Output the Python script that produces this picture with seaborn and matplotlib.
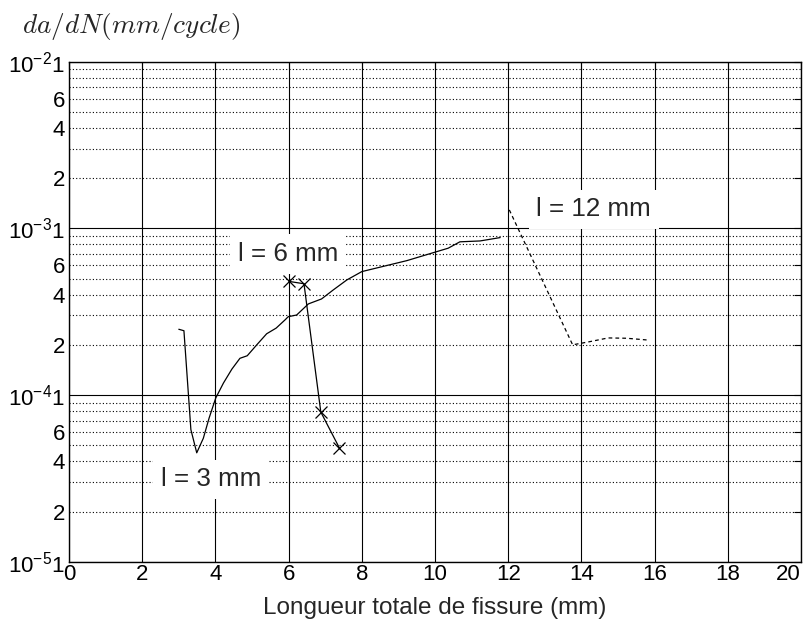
import numpy as np
import pandas as pd
import matplotlib
matplotlib.use('Agg')
import matplotlib.pyplot as plt
import seaborn as sns

# courbe l = 3 mm (trait plein)
x_3mm = [3.0, 3.14, 3.33, 3.49, 3.67, 3.83, 4.01, 4.22, 4.45, 4.67, 4.87, 5.13, 5.40, 5.66, 5.90,
         5.99, 6.22, 6.54, 6.90, 7.22, 7.59, 8.00, 8.50, 9.23, 10.05, 10.36, 10.68, 11.23, 11.78]
y_3mm = [2.48e-4, 2.43e-4, 6.2e-5, 4.5e-5, 5.5e-5, 7.3e-5, 9.6e-5, 1.18e-4, 1.43e-4, 1.66e-4,
         1.72e-4, 2.0e-4, 2.33e-4, 2.52e-4, 2.82e-4, 2.95e-4, 3.02e-4, 3.52e-4, 3.77e-4, 4.27e-4,
         4.9e-4, 5.5e-4, 5.85e-4, 6.4e-4, 7.25e-4, 7.6e-4, 8.3e-4, 8.4e-4, 8.8e-4]

# courbe l = 6 mm (croix)
x_6mm = [6.02, 6.42, 6.88, 7.39]
y_6mm = [4.8e-4, 4.65e-4, 7.9e-5, 4.8e-5]

# courbe l = 12 mm (tirets)
x_12mm = [12.03, 13.76, 14.23, 14.73, 15.24, 15.78]
y_12mm = [1.29e-3, 2.0e-4, 2.09e-4, 2.2e-4, 2.19e-4, 2.14e-4]

decades = [-5, -4, -3, -2]
labelled_minor = [2, 4, 6]
x_ticks = list(range(0, 21, 2))

sns.set_style('white')
plt.rcParams['font.family'] = ['Liberation Sans', 'DejaVu Sans']

fig = plt.figure(figsize=(8.07, 6.19), dpi=100)
ax = fig.add_axes([0.0855, 0.0926, 0.9071, 0.8078])

sns.lineplot(x=x_3mm, y=y_3mm, ax=ax, color='black', lw=0.9, estimator=None, sort=False)
sns.lineplot(x=x_6mm, y=y_6mm, ax=ax, color='black', lw=0.9, marker='x', markersize=8.5,
             markeredgewidth=0.9, markeredgecolor='black', estimator=None, sort=False)
sns.lineplot(x=x_12mm, y=y_12mm, ax=ax, color='black', lw=0.9, linestyle=(0, (3, 2.5)),
             estimator=None, sort=False)

ax.set_yscale('log')
ax.set_xlim(0, 20)
ax.set_ylim(1e-5, 1e-2)

# ticks: decades + 2,4,6 labelled ; minor 2..9 for dotted grid
major = []
labels = []
for d in decades:
    major.append(10.0 ** d)
    labels.append(r'$\mathregular{10^{%d}}$1' % d)
    if d < -2:
        for m in labelled_minor:
            major.append(m * 10.0 ** d)
            labels.append(str(m))
minor = [m * 10.0 ** d for d in decades[:-1] for m in range(2, 10)]
ax.set_yticks(major)
ax.set_yticklabels(labels)
ax.set_yticks(minor, minor=True)
ax.yaxis.remove_overlapping_locs = False
ax.set_xticks(x_ticks)

ax.tick_params(axis='both', which='major', direction='in', length=5, width=0.8,
               top=True, right=True, labelsize=16, colors='black')
ax.tick_params(axis='y', which='major', pad=3)
ax.tick_params(axis='x', which='major', pad=2)
ax.tick_params(axis='y', which='minor', length=0, left=False, right=False)
# dernier label (20) gardé dans la figure
ax.get_xticklabels()[-1].set_horizontalalignment('right')

ax.grid(False)
ax.xaxis.grid(True, which='major', color='black', lw=0.8, linestyle='-')
ax.yaxis.grid(True, which='minor', color='black', lw=0.8, linestyle=(0, (1, 2)))
for d in decades:
    ax.axhline(10.0 ** d, color='black', lw=0.8, zorder=1)
ax.set_axisbelow(True)

for s in ax.spines.values():
    s.set_color('black')
    s.set_linewidth(1.0)

ax.set_xlabel('Longueur totale de fissure (mm)', fontsize=17.5, labelpad=8)
ax.set_ylabel('')
fig.text(0.027, 0.947, r'$da/dN(mm/cycle)$', fontsize=19.7, ha='left', va='baseline',
         math_fontfamily='cm')

box = dict(boxstyle='square,pad=0.3', facecolor='white', edgecolor='none')
ax.text(14.34, 1.3e-3, 'l = 12 mm', fontsize=18.7, ha='center', va='center', bbox=box, zorder=5)
ax.text(5.98, 7.0e-4, 'l = 6 mm', fontsize=18.7, ha='center', va='center', bbox=box, zorder=5)
ax.text(3.88, 3.12e-5, 'l = 3 mm', fontsize=18.7, ha='center', va='center', bbox=box, zorder=5)

fig.savefig('out.png', dpi=100, facecolor='white')
